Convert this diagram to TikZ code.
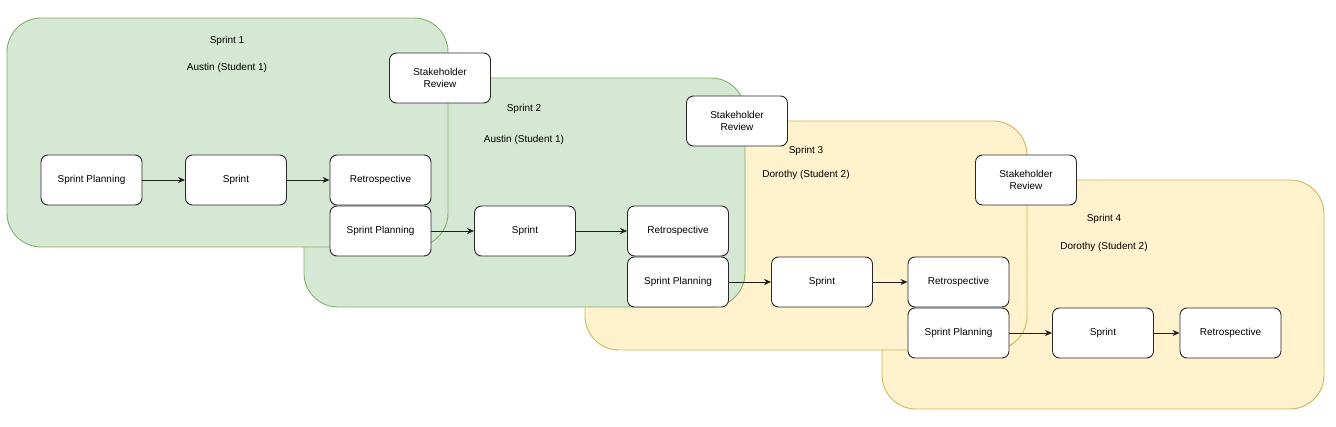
\documentclass[tikz,border=0pt]{standalone}
\usepackage{fontspec}
\setmainfont{Liberation Sans}
\usetikzlibrary{arrows.meta}
\begin{document}
\begin{tikzpicture}[x=1pt,y=-1pt,
  greenbox/.style={draw={rgb,255:red,130;green,179;blue,102}, fill={rgb,255:red,213;green,232;blue,212}, line width=0.9pt, rounded corners=34pt},
  yellowbox/.style={draw={rgb,255:red,214;green,182;blue,86}, fill={rgb,255:red,255;green,242;blue,204}, line width=0.9pt, rounded corners=34pt},
  stepnode/.style={draw={rgb,255:red,40;green,40;blue,40}, fill=white, line width=0.9pt, rounded corners=7pt, minimum width=101pt, minimum height=50pt, inner sep=1pt, font=\fontsize{10}{12}\selectfont, align=center},
  lbl/.style={font=\fontsize{10}{12}\selectfont, inner sep=0pt, yshift=-1.5pt},
  flow/.style={-{Stealth[length=7pt,width=6pt]}, line width=0.8pt, draw={rgb,255:red,30;green,30;blue,30}}
]
\useasboundingbox (0,0) rectangle (1336,427);
% containers, back to front
\draw[yellowbox] (882,180) rectangle (1324,409);
\draw[yellowbox] (585,121) rectangle (1027,350);
\draw[greenbox] (304,78) rectangle (745,307);
\draw[greenbox] (7,18) rectangle (448,247);
% container labels
\node[lbl] (t1a) at (227,39) {Sprint 1};
\node[lbl] (t1b) at (227,66) {Austin (Student 1)};
\node[lbl] (t2a) at (524,107) {Sprint 2};
\node[lbl] (t2b) at (524,138) {Austin (Student 1)};
\node[lbl] (t3a) at (806,149) {Sprint 3};
\node[lbl] (t3b) at (806,173) {Dorothy (Student 2)};
\node[lbl] (t4a) at (1104,217) {Sprint 4};
\node[lbl] (t4b) at (1104,245) {Dorothy (Student 2)};
% stakeholder reviews
\node[stepnode] (sr1) at (440,78) {Stakeholder\\Review};
\node[stepnode] (sr2) at (737,121) {Stakeholder\\Review};
\node[stepnode] (sr3) at (1026,180) {Stakeholder\\Review};
% sprint 1
\node[stepnode] (sp1) at (91.5,180) {Sprint Planning};
\node[stepnode] (s1) at (236,180) {Sprint};
\node[stepnode] (r1) at (380.5,180) {Retrospective};
% sprint 2
\node[stepnode] (sp2) at (380.5,231) {Sprint Planning};
\node[stepnode] (s2) at (525,231) {Sprint};
\node[stepnode] (r2) at (678,231) {Retrospective};
% sprint 3
\node[stepnode] (sp3) at (678,282) {Sprint Planning};
\node[stepnode] (s3) at (822,282) {Sprint};
\node[stepnode] (r3) at (958.5,282) {Retrospective};
% sprint 4
\node[stepnode] (sp4) at (958.5,333) {Sprint Planning};
\node[stepnode] (s4) at (1103,333) {Sprint};
\node[stepnode] (r4) at (1230.5,333) {Retrospective};
% arrows
\draw[flow] (sp1) -- (s1);
\draw[flow] (s1) -- (r1);
\draw[flow] (sp2) -- (s2);
\draw[flow] (s2) -- (r2);
\draw[flow] (sp3) -- (s3);
\draw[flow] (s3) -- (r3);
\draw[flow] (sp4) -- (s4);
\draw[flow] (s4) -- (r4);
\end{tikzpicture}
\end{document}
